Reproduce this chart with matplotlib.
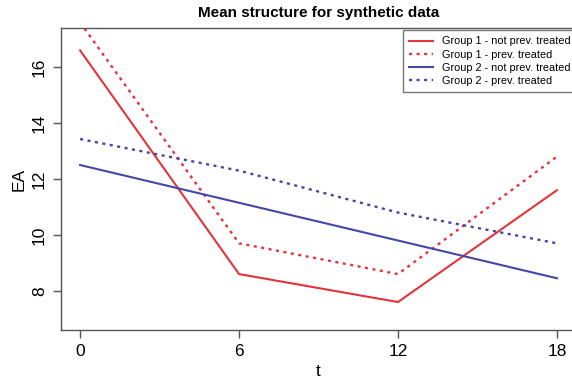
import matplotlib
matplotlib.use("Agg")
import matplotlib.pyplot as plt

t = [0, 6, 12, 18]
g1_not = [16.6, 8.6, 7.6, 11.6]
g1_prev = [17.6, 9.7, 8.6, 12.8]
g2_not = [12.5, 11.15, 9.8, 8.45]
g2_prev = [13.43, 12.3, 10.8, 9.7]
labels = ["Group 1 - not prev. treated", "Group 1 - prev. treated",
          "Group 2 - not prev. treated", "Group 2 - prev. treated"]
xticks = [0, 6, 12, 18]
yticks = [8, 10, 12, 14, 16]

red = "#e2343a"
blue = "#4646a8"

plt.rcParams['font.family'] = ['Liberation Sans', 'DejaVu Sans']
fig = plt.figure(figsize=(5.72, 3.86), dpi=100)
W, H = 572, 386
x0, x1 = 61, 576
y0, y1 = 28, 330
ax = fig.add_axes([x0 / W, 1 - y1 / H, (x1 - x0) / W, (y1 - y0) / H])

dot = (0, (1.3, 1.9))
ax.plot(t, g1_not, color=red, lw=1.5, label=labels[0])
ax.plot(t, g1_prev, color=red, lw=1.7, linestyle=dot, label=labels[1])
ax.plot(t, g2_not, color=blue, lw=1.5, label=labels[2])
ax.plot(t, g2_prev, color=blue, lw=1.7, linestyle=dot, label=labels[3])

ax.set_xlim(-0.72, 18.72)
ax.set_ylim(6.6, 17.4)
ax.set_xticks(xticks)
ax.set_yticks(yticks)
ax.set_yticklabels([str(v) for v in yticks], rotation=90, va='center')
ax.tick_params(labelsize=12.5, length=6, width=1, color="#555555", pad=4)
for s in ax.spines.values():
    s.set_color("#555555")
    s.set_linewidth(1)

ax.set_title("Mean structure for synthetic data", fontsize=11, fontweight='bold', pad=8)
ax.set_xlabel("t", fontsize=12.5, labelpad=4)
ax.set_ylabel("EA", fontsize=12.5, labelpad=4)

leg = ax.legend(loc='upper left', bbox_to_anchor=((403 - x0) / (x1 - x0), 1 - 2 / (y1 - y0)),
                fontsize=7.8, frameon=True, fancybox=False, borderpad=0.6,
                labelspacing=0.28, handlelength=2.2, handletextpad=0.8, borderaxespad=0)
leg.get_frame().set_edgecolor("#555555")
leg.get_frame().set_linewidth(1)

fig.savefig("out.png", dpi=100)
